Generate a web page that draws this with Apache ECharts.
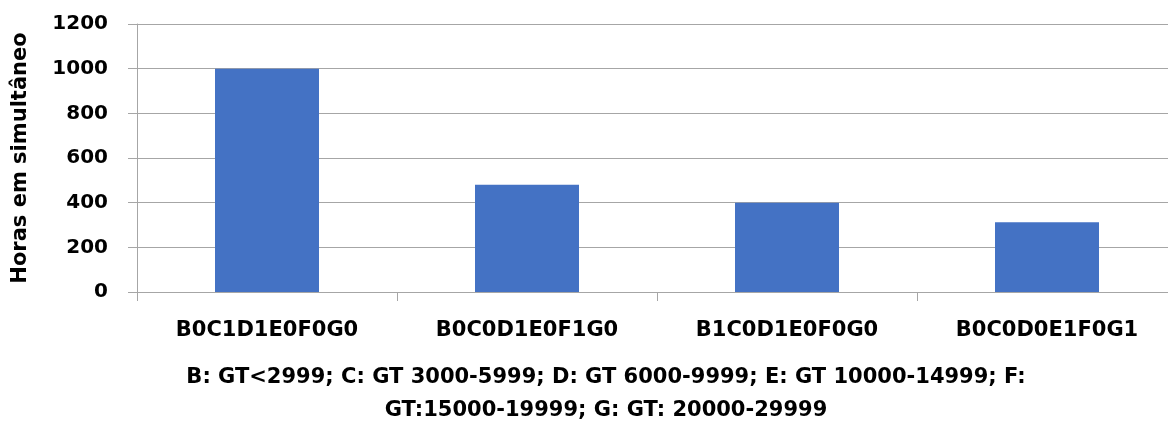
<!DOCTYPE html>
<html>
<head>
<meta charset="utf-8">
<script src="https://cdn.jsdelivr.net/npm/echarts@6/dist/echarts.min.js"></script>
<style>
  html, body { margin: 0; padding: 0; background: #ffffff; }
  #chart { width: 1168px; height: 423px; }
</style>
</head>
<body>
<div id="chart"></div>
<script>
// Fleet combinations (number of ships per gross-tonnage class)
const categories = ['B0C1D1E0F0G0', 'B0C0D1E0F1G0', 'B1C0D1E0F0G0', 'B0C0D0E1F0G1'];
// Hours of simultaneous operation for each combination
const hours = [1000, 480, 400, 312];
const yTicks = { min: 0, max: 1200, interval: 200 };
const yTitle = 'Horas em simultâneo';
const noteLines = [
  'B: GT<2999; C: GT 3000-5999; D: GT 6000-9999; E: GT 10000-14999; F:',
  'GT:15000-19999; G: GT: 20000-29999'
];

const FONT = 'DejaVu Sans';
const gridColor = '#a6a6a6';

const chart = echarts.init(document.getElementById('chart'), null, { renderer: 'canvas' });
chart.setOption({
  animation: false,
  backgroundColor: '#ffffff',
  grid: {
    left: 137, top: 24, width: 1040, bottom: 131,
    containLabel: false, outerBoundsMode: 'none'
  },
  xAxis: {
    type: 'category',
    data: categories,
    boundaryGap: true,
    axisLine: { show: true, lineStyle: { color: gridColor, width: 1 } },
    axisTick: { show: true, alignWithLabel: false, length: 9, lineStyle: { color: gridColor } },
    axisLabel: {
      interval: 0, margin: 28, color: '#000000',
      fontFamily: FONT, fontWeight: 'bold', fontSize: 21
    },
    splitLine: { show: false }
  },
  yAxis: {
    type: 'value',
    min: yTicks.min, max: yTicks.max, interval: yTicks.interval,
    name: yTitle,
    nameLocation: 'middle',
    nameRotate: 90,
    nameGap: 106,
    nameTextStyle: { color: '#000000', fontFamily: FONT, fontWeight: 'bold', fontSize: 21 },
    axisLine: { show: true, lineStyle: { color: gridColor, width: 1 } },
    axisTick: { show: true, length: 9, lineStyle: { color: gridColor } },
    axisLabel: {
      margin: 29, color: '#000000',
      fontFamily: FONT, fontWeight: 'bold', fontSize: 20,
      formatter: (v) => String(v)
    },
    splitLine: { show: true, lineStyle: { color: gridColor, width: 1 } }
  },
  series: [{
    type: 'bar',
    data: hours,
    barWidth: '40%',
    itemStyle: { color: '#4472c4' }
  }],
  graphic: [{
    type: 'text',
    style: {
      text: noteLines.join('\n'),
      x: 606,
      y: 361,
      textAlign: 'center',
      textVerticalAlign: 'top',
      fill: '#000000',
      font: 'bold 21px "DejaVu Sans"',
      lineHeight: 33
    }
  }]
});
</script>
</body>
</html>
